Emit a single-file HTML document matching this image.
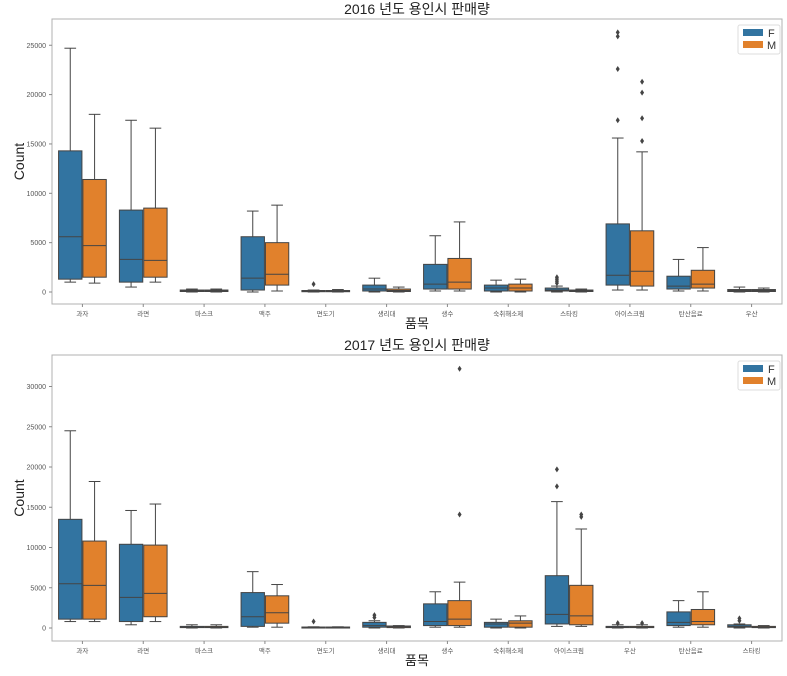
<!DOCTYPE html>
<html><head><meta charset="utf-8">
<style>
body{margin:0;background:#fff;}
svg text{font-family:"Liberation Sans","Noto Sans CJK KR",sans-serif;}
</style></head>
<body>
<svg id="chart" width="787" height="671" viewBox="0 0 787 671" xmlns="http://www.w3.org/2000/svg"></svg>
<script>
const categories2016 = ["과자","라면","마스크","맥주","면도기","생리대","생수","숙취해소제","스타킹","아이스크림","탄산음료","우산"];
// [whiskerLow, Q1, median, Q3, whiskerHigh]
const female2016 = [[1000,1300,5600,14300,24700],[500,1000,3300,8300,17400],[0,50,100,200,300],[0,200,1400,5600,8200],[0,30,80,150,200],[0,100,300,700,1400],[100,300,800,2800,5700],[0,100,400,700,1200],[0,100,200,400,600],[200,700,1700,6900,15600],[100,300,600,1600,3300],[0,50,150,250,500]];
const male2016 = [[900,1500,4700,11400,18000],[1000,1500,3200,8500,16600],[0,50,100,200,300],[100,700,1800,5000,8800],[0,30,80,150,250],[0,50,150,300,500],[100,300,1000,3400,7100],[0,100,400,800,1300],[0,50,100,200,300],[200,600,2100,6200,14200],[100,400,800,2200,4500],[0,50,150,250,400]];
const femaleOut2016 = [[],[],[],[],[800],[],[],[],[900,1100,1300,1500],[17400,22600,25900,26300],[],[]];
const maleOut2016 = [[],[],[],[],[],[],[],[],[],[15300,17600,20200,21300],[],[]];
const ticks2016 = [0,5000,10000,15000,20000,25000];

const categories2017 = ["과자","라면","마스크","맥주","면도기","생리대","생수","숙취해소제","아이스크림","우산","탄산음료","스타킹"];
const female2017 = [[800,1100,5500,13500,24500],[400,800,3800,10400,14600],[0,50,100,200,400],[100,200,1400,4400,7000],[0,30,80,120,150],[0,100,300,700,900],[100,300,800,3000,4500],[0,100,500,700,1100],[200,500,1700,6500,15700],[0,50,100,200,400],[100,300,700,2000,3400],[0,100,200,400,500]];
const male2017 = [[800,1100,5300,10800,18200],[800,1400,4300,10300,15400],[0,50,100,200,400],[100,600,1900,4000,5400],[0,30,80,120,150],[0,50,150,250,300],[100,300,1100,3400,5700],[0,100,600,900,1500],[200,400,1500,5300,12300],[0,50,100,200,400],[100,400,800,2300,4500],[0,50,100,200,300]];
const femaleOut2017 = [[],[],[],[],[800],[1300,1600],[],[],[17600,19700],[600],[],[900,1200]];
const maleOut2017 = [[],[],[],[],[],[],[14100,32200],[],[13800,14100],[600],[],[]];
const ticks2017 = [0,5000,10000,15000,20000,25000,30000];

const svg = document.getElementById('chart');
const NS = "http://www.w3.org/2000/svg";
const BLUE="#3274a1", ORANGE="#e1812c", EDGE="#444";
function mk(tag, attrs, parent){const e=document.createElementNS(NS,tag);for(const k in attrs)e.setAttribute(k,attrs[k]);(parent||svg).appendChild(e);return e;}

function drawPanel(p){
  const g = mk('g',{});
  
  
  const L=52,R=782;
  const step=(R-L)/p.cats.length;
  const xc=i=>L+step*(i+0.5);
  const y=v=>p.zeroY - v*p.pxPer;
  const frame=mk('rect',{x:L,y:p.top,width:R-L,height:p.bottom-p.top,fill:'none',stroke:'#b0b0b0','stroke-width':1},g);
  
  
  const t=mk('text',{x:(L+R)/2,y:p.top-5,'text-anchor':'middle','font-size':14,fill:'#222'},g);
  t.textContent=p.title;
  
  
  p.ticks.forEach(v=>{
    mk('line',{x1:L-3,x2:L,y1:y(v),y2:y(v),stroke:'#888'},g);
    const tl=mk('text',{x:L-6,y:y(v)+2.5,'text-anchor':'end','font-size':7,fill:'#555'},g);
    tl.textContent=v;
    
    
  });
  const yl=mk('text',{x:24,y:(p.top+p.bottom)/2,'text-anchor':'middle','font-size':14,fill:'#222',transform:`rotate(-90 24 ${(p.top+p.bottom)/2})`},g);
  yl.textContent='Count';
  
  
  const xl=mk('text',{x:(L+R)/2,y:p.bottom+24,'text-anchor':'middle','font-size':13,fill:'#222'},g);
  xl.textContent='품목';
  
  
  const bw=step*0.4*0.96;
  p.cats.forEach((c,i)=>{
    mk('line',{x1:xc(i),x2:xc(i),y1:p.bottom,y2:p.bottom+3,stroke:'#888'},g);
    const cl=mk('text',{x:xc(i),y:p.bottom+12,'text-anchor':'middle','font-size':6.5,fill:'#555'},g);
    cl.textContent=c;
    
    
    [[p.f,p.fo,BLUE,-1],[p.m,p.mo,ORANGE,1]].forEach(([arr,out,col,s])=>{
      const d=arr[i];
      const cx=xc(i)+s*step*0.2;
      const bg=mk('g',{},g);
      
      
      mk('line',{x1:cx,x2:cx,y1:y(d[0]),y2:y(d[1]),stroke:EDGE,'stroke-width':1},bg);
      mk('line',{x1:cx,x2:cx,y1:y(d[3]),y2:y(d[4]),stroke:EDGE,'stroke-width':1},bg);
      mk('line',{x1:cx-bw/4,x2:cx+bw/4,y1:y(d[0]),y2:y(d[0]),stroke:EDGE},bg);
      mk('line',{x1:cx-bw/4,x2:cx+bw/4,y1:y(d[4]),y2:y(d[4]),stroke:EDGE},bg);
      mk('rect',{x:cx-bw/2,y:y(d[3]),width:bw,height:Math.max(1,y(d[1])-y(d[3])),fill:col,stroke:EDGE,'stroke-width':1},bg);
      mk('line',{x1:cx-bw/2,x2:cx+bw/2,y1:y(d[2]),y2:y(d[2]),stroke:EDGE},bg);
      out[i].forEach(v=>{
        const o=mk('path',{d:`M${cx} ${y(v)-3}L${cx+2} ${y(v)}L${cx} ${y(v)+3}L${cx-2} ${y(v)}Z`,fill:EDGE},bg);
        
        
      });
    });
  });
  const lg=mk('g',{},g);
  
  
  const ly=p.top+6;
  mk('rect',{x:738,y:ly,width:42,height:29,fill:'#fff',stroke:'#ddd',rx:2},lg);
  mk('rect',{x:743,y:ly+4,width:20,height:7,fill:BLUE},lg);
  mk('rect',{x:743,y:ly+16,width:20,height:7,fill:ORANGE},lg);
  const lf=mk('text',{x:768,y:ly+12,'font-size':11,fill:'#333'},lg);lf.textContent='F';
  
  
  const lm=mk('text',{x:767,y:ly+24,'font-size':11,fill:'#333'},lg);lm.textContent='M';
  
  
}
drawPanel({name:'chart-2016',title:'2016 년도 용인시 판매량',cats:categories2016,f:female2016,m:male2016,fo:femaleOut2016,mo:maleOut2016,ticks:ticks2016,top:19,bottom:304,zeroY:292,pxPer:0.00987});
drawPanel({name:'chart-2017',title:'2017 년도 용인시 판매량',cats:categories2017,f:female2017,m:male2017,fo:femaleOut2017,mo:maleOut2017,ticks:ticks2017,top:355,bottom:641,zeroY:628,pxPer:0.00805});
</script>
</body></html>
